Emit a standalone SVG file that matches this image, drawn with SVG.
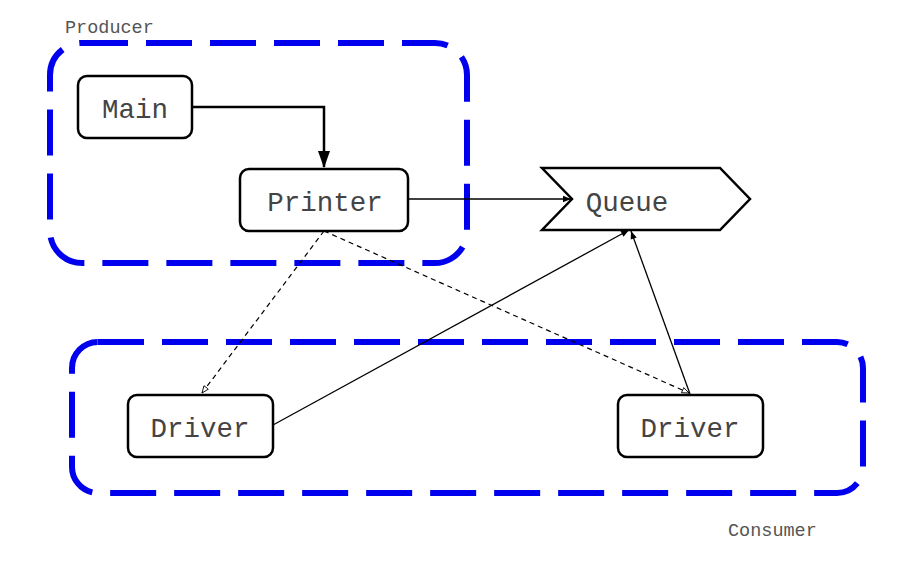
<svg xmlns="http://www.w3.org/2000/svg" width="912" height="563" viewBox="0 0 912 563">
<style>
.grp{fill:none;stroke:#0000ee;stroke-width:6;stroke-dasharray:46 18}
.node{fill:#fff;stroke:#000;stroke-width:2.5}
.lbl{font-family:"Liberation Mono",monospace;font-size:27.5px;fill:#444;text-anchor:middle}
.glbl{font-family:"Liberation Mono",monospace;font-size:18.5px;fill:#555}
.thin{fill:none;stroke:#000;stroke-width:1.3}
.dash{fill:none;stroke:#000;stroke-width:1.2;stroke-dasharray:5 4}
</style>
<defs>
<marker id="fill" viewBox="0 0 10 10" refX="10" refY="5" markerWidth="10" markerHeight="8" markerUnits="userSpaceOnUse" orient="auto">
<path d="M0,1 L10,5 L0,9 Z" fill="#000"/>
</marker>
<marker id="open" viewBox="0 0 10 10" refX="10" refY="5" markerWidth="8" markerHeight="7" markerUnits="userSpaceOnUse" orient="auto">
<path d="M0,1 L10,5 L0,9 Z" fill="#fff" stroke="#000" stroke-width="1.2"/>
</marker>
</defs>
<rect width="912" height="563" fill="#fff"/>
<g id="producer">
<rect class="grp" x="50" y="43" width="417" height="220" rx="32"/>
<text class="glbl" x="65" y="33">Producer</text>
</g>
<g id="consumer">
<rect class="grp" x="72" y="342" width="791" height="151" rx="26"/>
<text class="glbl" x="728" y="536">Consumer</text>
</g>
<g id="connectors">
<path d="M192,107 H324 V167" fill="none" stroke="#000" stroke-width="2.5"/>
<path d="M318,151 L330,151 L324,168 Z" fill="#000"/>
<line class="thin" x1="408" y1="199" x2="571" y2="199" marker-end="url(#fill)"/>
<line class="dash" x1="324" y1="231" x2="202" y2="393" marker-end="url(#open)"/>
<line class="dash" x1="324" y1="231" x2="689" y2="393" marker-end="url(#open)"/>
<line class="thin" x1="273" y1="425" x2="629" y2="230" marker-end="url(#fill)"/>
<line class="thin" x1="690" y1="394" x2="631" y2="231" marker-end="url(#fill)"/>
</g>
<g id="main">
<rect class="node" x="78" y="76" width="114" height="62" rx="9"/>
<text class="lbl" x="135" y="118">Main</text>
</g>
<g id="printer">
<rect class="node" x="240" y="169" width="168" height="62" rx="9"/>
<text class="lbl" x="325" y="211">Printer</text>
</g>
<g id="queue">
<path class="node" d="M542,168 H720 L750,199 L720,230 H542 L572,199 Z"/>
<text class="lbl" x="627" y="211">Queue</text>
</g>
<g id="driver1">
<rect class="node" x="128" y="395" width="145" height="62" rx="9"/>
<text class="lbl" x="200" y="437">Driver</text>
</g>
<g id="driver2">
<rect class="node" x="618" y="395" width="145" height="62" rx="9"/>
<text class="lbl" x="690" y="437">Driver</text>
</g>
</svg>
